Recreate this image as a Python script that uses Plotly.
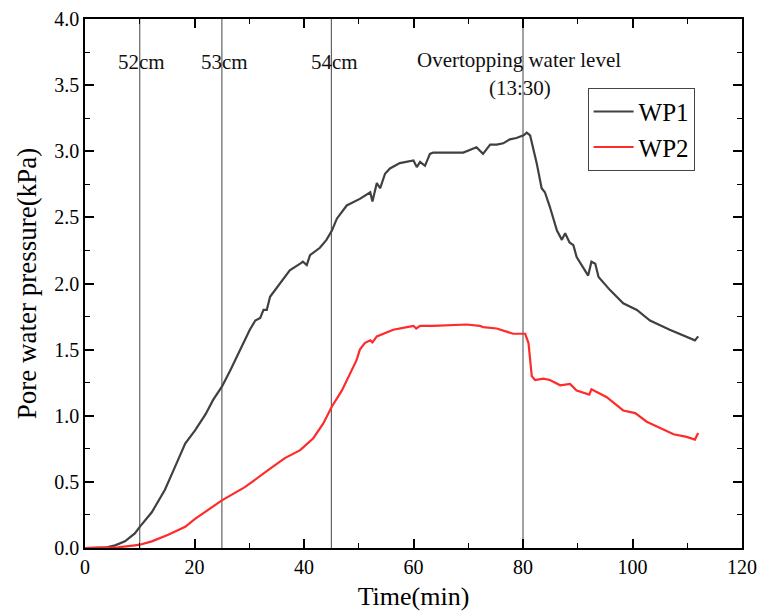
import plotly.graph_objects as go

# ---- data ----
wp1_t = [0, 2, 4, 5.5, 7.3, 9.1, 10.0, 12.2, 14.6, 16.4, 18.3, 20.1, 22.0, 23.4, 25.0, 26.5, 28.3,
         30.1, 31.1, 32.0, 32.6, 33.2, 33.8, 35.6, 37.4, 39.3, 39.8, 40.5, 41.1, 42.9, 44.1, 45.1,
         46.0, 47.8, 50.2, 52.1, 52.5, 53.3, 53.9, 54.8, 55.7, 57.5, 60.0, 60.6, 61.2, 62.1, 63.0,
         63.6, 69.1, 71.5, 72.7, 74.0, 75.2, 76.4, 77.6, 78.8, 80.1, 80.7, 81.3, 82.5, 83.4, 84.0,
         84.9, 86.2, 87.1, 87.7, 88.5, 89.2, 89.8, 91.9, 92.5, 93.2, 93.8, 95.9, 98.3, 100.8, 103.2,
         106.8, 111.4, 112.0]
wp1_p = [0.0, 0.0, 0.005, 0.02, 0.05, 0.11, 0.16, 0.27, 0.44, 0.61, 0.79, 0.89, 1.01, 1.12, 1.22, 1.34, 1.50,
         1.65, 1.72, 1.74, 1.80, 1.80, 1.90, 2.00, 2.10, 2.15, 2.165, 2.14, 2.215, 2.27, 2.33, 2.40,
         2.49, 2.59, 2.64, 2.69, 2.62, 2.76, 2.72, 2.83, 2.87, 2.91, 2.93, 2.88, 2.92, 2.89, 2.98,
         2.99, 2.99, 3.03, 2.98, 3.05, 3.05, 3.06, 3.09, 3.10, 3.12, 3.14, 3.12, 2.91, 2.72, 2.69,
         2.58, 2.40, 2.33, 2.38, 2.31, 2.29, 2.20, 2.06, 2.165, 2.15, 2.05, 1.95, 1.85, 1.80, 1.72,
         1.65, 1.57, 1.60]

wp2_t = [0, 3, 6, 9.1, 10.0, 12.2, 15.2, 18.3, 20.1, 25.0, 29.2, 33.5, 36.5, 39.3, 41.7, 43.5, 45.1,
         46.9, 48.4, 49.6, 50.2, 51.1, 52.1, 52.5, 53.3, 54.5, 56.3, 58.8, 60.0, 60.5, 61.2, 63.6,
         67.9, 69.7, 72.1, 72.7, 75.2, 78.2, 80.4, 81.0, 81.6, 82.2, 83.7, 84.9, 86.8, 88.6, 89.8,
         92.1, 92.5, 95.3, 98.3, 100.5, 102.6, 105.0, 107.5, 109.9, 111.4, 112.0]
wp2_p = [0.0, 0.0, 0.005, 0.02, 0.025, 0.05, 0.10, 0.16, 0.22, 0.36, 0.46, 0.59, 0.68, 0.74, 0.83, 0.94, 1.07,
         1.19, 1.32, 1.42, 1.50, 1.55, 1.57, 1.555, 1.60, 1.62, 1.65, 1.67, 1.68, 1.66, 1.68, 1.68,
         1.69, 1.69, 1.68, 1.67, 1.66, 1.62, 1.62, 1.55, 1.30, 1.27, 1.28, 1.27, 1.23, 1.24, 1.19,
         1.16, 1.20, 1.14, 1.04, 1.02, 0.955, 0.91, 0.86, 0.84, 0.82, 0.87]

event_times = [10, 25, 45, 80]
label_texts = ["52cm", "53cm", "54cm", "Overtopping water level", "(13:30)"]
label_x = [10.4, 25.4, 45.5, 79.3, 79.4]
label_y = [3.675, 3.675, 3.675, 3.69, 3.48]

x_ticks = [0, 20, 40, 60, 80, 100, 120]
y_ticks = [0.0, 0.5, 1.0, 1.5, 2.0, 2.5, 3.0, 3.5, 4.0]

FONT = "Liberation Serif, Times New Roman, serif"

fig = go.Figure()
fig.add_trace(go.Scatter(x=wp1_t, y=wp1_p, mode="lines", name="WP1",
                         line=dict(color="#404040", width=2.2)))
fig.add_trace(go.Scatter(x=wp2_t, y=wp2_p, mode="lines", name="WP2",
                         line=dict(color="#ff2a2a", width=2.2)))

for t in event_times:
    fig.add_shape(type="line", xref="x", yref="paper", x0=t, x1=t, y0=0, y1=1,
                  line=dict(color="#555555", width=1.1), layer="below")

for tx, lx, ly in zip(label_texts, label_x, label_y):
    fig.add_annotation(x=lx, y=ly, xref="x", yref="y", text=tx, showarrow=False,
                       font=dict(family=FONT, size=21, color="#111111"),
                       xanchor="center", yanchor="middle", align="center")

axis_common = dict(showline=True, linecolor="black", linewidth=1.5, mirror="ticks",
                   ticks="inside", ticklen=9, tickwidth=1.5, tickcolor="black",
                   showgrid=False, zeroline=False, automargin=False,
                   tickfont=dict(family=FONT, size=20, color="black"))

fig.update_xaxes(range=[0, 120], tickvals=x_ticks, ticktext=[str(v) for v in x_ticks],
                 title=dict(text="Time(min)", font=dict(family=FONT, size=26, color="black"), standoff=10),
                 minor=dict(ticks="inside", dtick=10, ticklen=5, tickwidth=1.2, tickcolor="black"),
                 **axis_common)
fig.update_yaxes(range=[0, 4.0], tickvals=y_ticks, ticktext=[f"{v:.1f}" for v in y_ticks],
                 title=dict(text="Pore water pressure(kPa)", font=dict(family=FONT, size=27, color="black"), standoff=10),
                 minor=dict(ticks="inside", dtick=0.25, ticklen=5, tickwidth=1.2, tickcolor="black"),
                 **axis_common)

fig.update_layout(
    width=760, height=612,
    margin=dict(l=85, r=18, t=19, b=64),
    paper_bgcolor="white", plot_bgcolor="white",
    showlegend=True,
    legend=dict(x=0.765, y=0.87, xanchor="left", yanchor="top",
                bordercolor="#444444", borderwidth=1, bgcolor="white",
                font=dict(family=FONT, size=25, color="black"),
                tracegroupgap=0, itemwidth=40),
)

fig.write_html("out.html")
